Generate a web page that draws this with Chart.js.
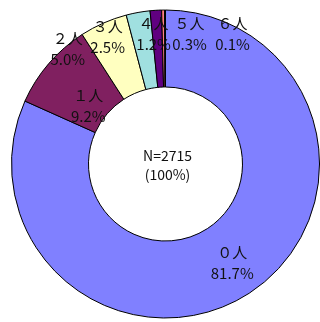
<!DOCTYPE html>
<html>
<head>
<meta charset="utf-8">
<script src="https://cdn.jsdelivr.net/npm/chart.js@4.4.1/dist/chart.umd.min.js"></script>
<style>
  html, body { margin: 0; padding: 0; background: #fff; }
  #wrap { width: 320px; height: 322px; }
</style>
</head>
<body>
<div id="wrap"><canvas id="pie"></canvas></div>
<script>
// household member counts and their share (%)
const categories = ['０人', '１人', '２人', '３人', '４人', '５人', '６人'];
const shares = [81.7, 9.2, 5.0, 2.5, 1.2, 0.3, 0.1];
const sliceColors = ['#8080FF', '#802060', '#FFFFC0', '#A0E0E0', '#600080', '#FF8080', '#0066CC'];
const totalN = 2715;

// where each label sits: angle in degrees (0 = right, clockwise) and fraction of outer radius
const labelSpots = [
    [55.9, 0.773],
    [217.0, 0.628],
    [229.8, 0.983],
    [245.5, 0.906],
    [264.8, 0.851],
    [280.4, 0.862],
    [297.2, 0.953]
];

const labelFont = '15px "Noto Sans CJK JP", sans-serif';
const centerFont = '14px "Noto Sans CJK JP", sans-serif';

const sliceLabels = {
    id: 'sliceLabels',
    afterDatasetsDraw(chart) {
        const ctx = chart.ctx;
        const arcs = chart.getDatasetMeta(0).data;
        const cx = arcs[0].x;
        const cy = arcs[0].y;
        const r = arcs[0].outerRadius;

        ctx.save();
        ctx.fillStyle = '#111';
        ctx.textAlign = 'center';
        ctx.textBaseline = 'middle';

        ctx.font = labelFont;
        categories.forEach((name, i) => {
            const a = labelSpots[i][0] * Math.PI / 180;
            const d = labelSpots[i][1] * r;
            const x = cx + Math.cos(a) * d;
            const y = cy + Math.sin(a) * d;
            ctx.fillText(name, x, y - 10.5);
            ctx.fillText(shares[i].toFixed(1) + '%', x, y + 10.5);
        });

        ctx.font = centerFont;
        ctx.fillText('N=' + totalN, cx + 2, cy - 8);
        ctx.fillText('(100%)', cx + 2, cy + 11);
        ctx.restore();
    }
};

new Chart(document.getElementById('pie'), {
    type: 'doughnut',
    data: {
        labels: categories,
        datasets: [{
            data: shares,
            backgroundColor: sliceColors,
            borderColor: '#000',
            borderWidth: 1
        }]
    },
    options: {
        responsive: true,
        maintainAspectRatio: false,
        animation: false,
        cutout: '50%',
        layout: { padding: { left: 11, right: 0, top: 9, bottom: 3 } },
        plugins: {
            legend: { display: false },
            tooltip: { enabled: false }
        }
    },
    plugins: [sliceLabels]
});
</script>
</body>
</html>
